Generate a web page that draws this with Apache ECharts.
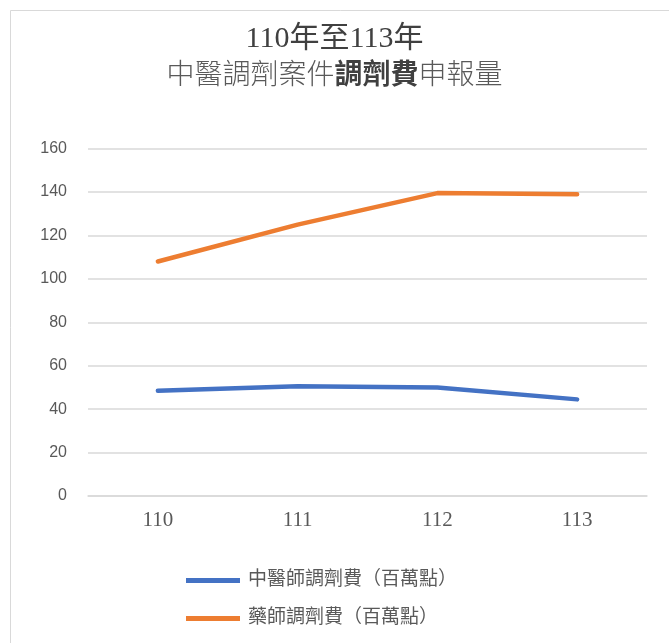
<!DOCTYPE html>
<html>
<head>
<meta charset="utf-8">
<script src="https://cdn.jsdelivr.net/npm/echarts@6/dist/echarts.min.js"></script>
<style>
  html, body { margin: 0; padding: 0; background: #ffffff; }
  #chart { width: 669px; height: 643px; }
</style>
</head>
<body>
<div id="chart"></div>
<script>
// Years (ROC calendar)
const years = ['110', '111', '112', '113'];
// Dispensing fees, in millions of points
const tcmPharmacistFees = [48.5, 50.5, 50, 44.5];
const pharmacistFees = [108, 125, 139.5, 139];
const seriesNames = ['中醫師調劑費（百萬點）', '藥師調劑費（百萬點）'];
const yTicks = { min: 0, max: 160, interval: 20 };

const serifCJK = "'Liberation Serif', 'Noto Sans CJK TC', serif";
const chart = echarts.init(document.getElementById('chart'), null, { renderer: 'canvas' });

chart.setOption({
  backgroundColor: '#ffffff',
  animation: false,
  graphic: [{
    type: 'rect',
    shape: { x: 10.5, y: 10.5, width: 700, height: 700 },
    style: { fill: 'none', stroke: '#d9d9d9', lineWidth: 1 },
    silent: true, z: -10
  }],
  title: [{
    text: '110年至113年',
    left: 'center',
    top: 24,
    padding: [0, 0, 0, 35],
    textStyle: { fontFamily: serifCJK, fontSize: 30, fontWeight: 'normal', color: '#404040' }
  }, {
    text: '{n|中醫調劑案件}{b|調劑費}{n|申報量}',
    left: 'center',
    top: 61,
    padding: [0, 0, 0, 35],
    textStyle: {
      fontFamily: serifCJK,
      rich: {
        n: { fontFamily: serifCJK, fontSize: 28, fontWeight: 300, color: '#595959', lineHeight: 32 },
        b: { fontFamily: serifCJK, fontSize: 28, fontWeight: 'bold', color: '#404040', lineHeight: 32 }
      }
    }
  }],
  legend: {
    orient: 'vertical',
    left: 181,
    top: 566,
    itemWidth: 54,
    itemHeight: 5,
    itemGap: 19,
    icon: 'rect',
    data: seriesNames,
    textStyle: { fontFamily: serifCJK, fontSize: 19, color: '#595959', padding: [0, 0, 0, 3] }
  },
  grid: { left: 88, right: 22, top: 148.6, bottom: 147, containLabel: false },
  xAxis: {
    type: 'category',
    data: years,
    boundaryGap: true,
    axisLine: { show: true, lineStyle: { color: '#d9d9d9', width: 1.5 } },
    axisTick: { show: false },
    axisLabel: { fontFamily: "'Liberation Serif', serif", fontSize: 21, color: '#595959', margin: 14 }
  },
  yAxis: {
    type: 'value',
    min: yTicks.min,
    max: yTicks.max,
    interval: yTicks.interval,
    axisLine: { show: false },
    axisTick: { show: false },
    splitLine: { lineStyle: { color: '#d9d9d9', width: 1.5 } },
    axisLabel: { fontFamily: "'Liberation Sans', sans-serif", fontSize: 16, color: '#595959', margin: 21 }
  },
  series: [{
    name: seriesNames[0],
    type: 'line',
    data: tcmPharmacistFees,
    showSymbol: false,
    symbol: 'none',
    itemStyle: { color: '#4472C4' },
    lineStyle: { color: '#4472C4', width: 4.5, cap: 'round' }
  }, {
    name: seriesNames[1],
    type: 'line',
    data: pharmacistFees,
    showSymbol: false,
    symbol: 'none',
    itemStyle: { color: '#ED7D31' },
    lineStyle: { color: '#ED7D31', width: 4.5, cap: 'round' }
  }]
});
</script>
</body>
</html>
